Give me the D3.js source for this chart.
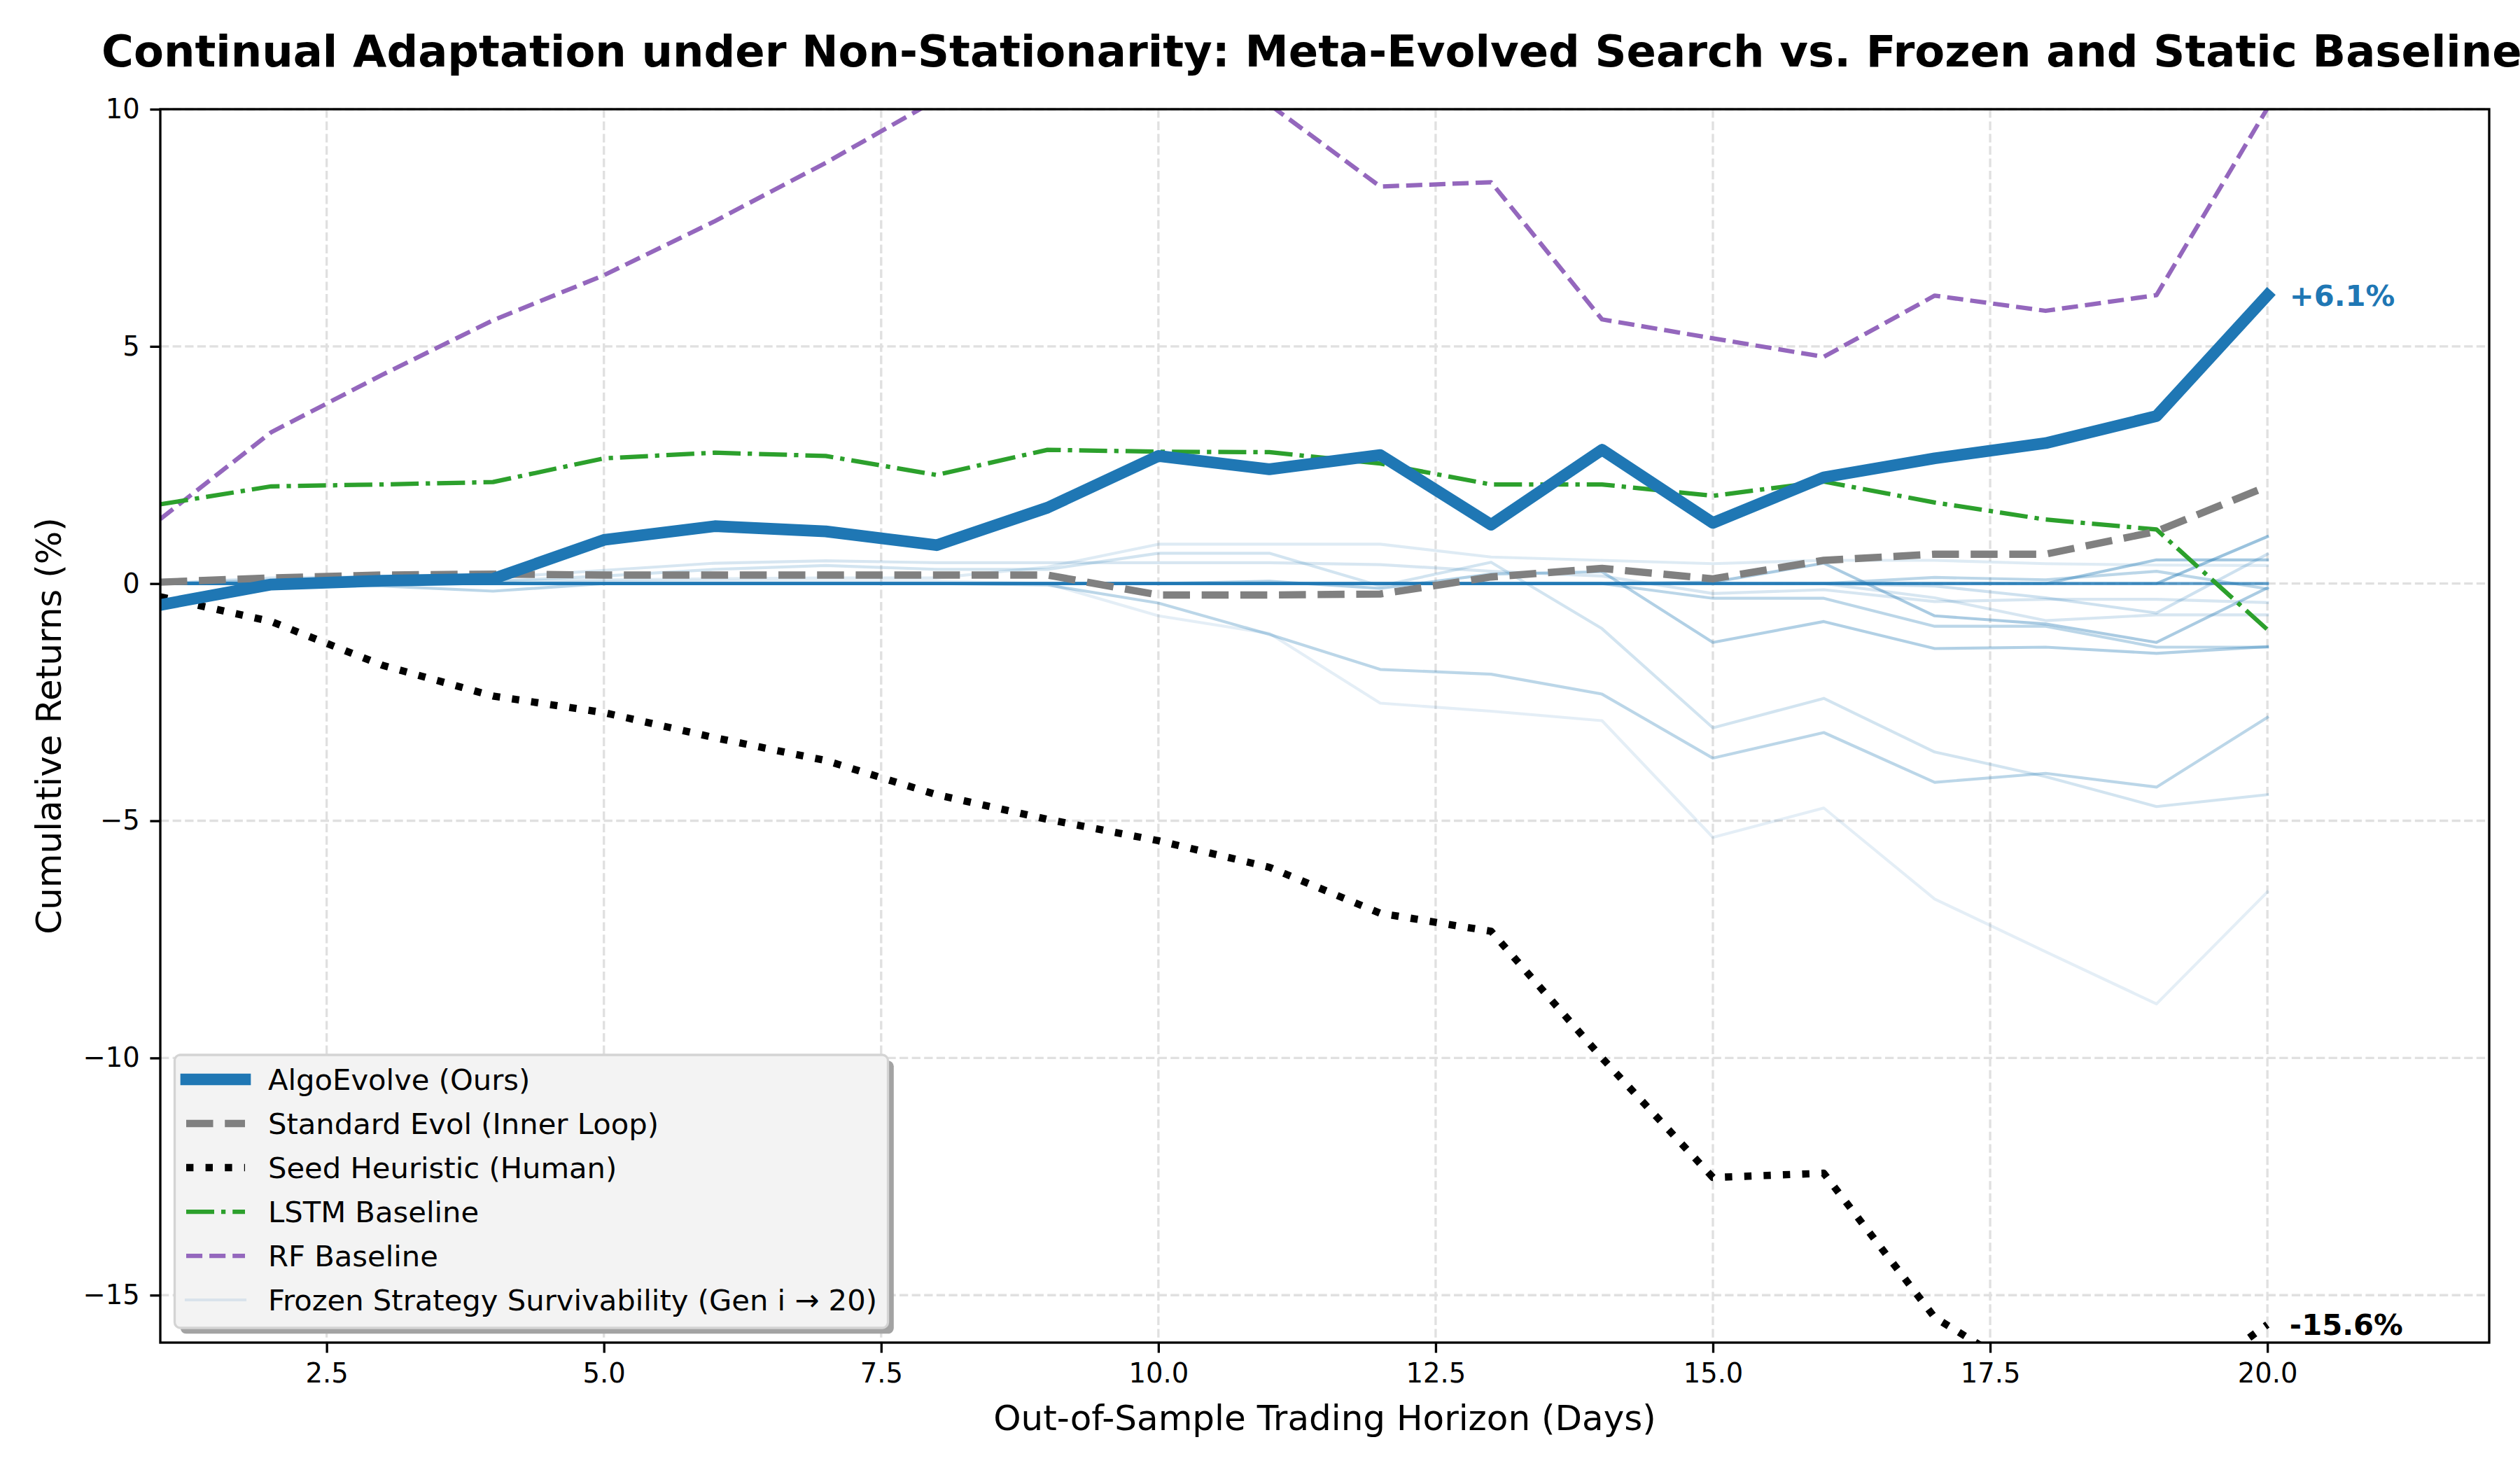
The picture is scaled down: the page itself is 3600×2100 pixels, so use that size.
<!DOCTYPE html>
<html><head><meta charset="utf-8">
<script src="https://cdn.jsdelivr.net/npm/d3@7"></script>
<style>html,body{margin:0;padding:0;background:#fff}</style>
</head><body>
<svg id="chart" width="3600" height="2100"></svg>
<script>
// ---------------- data ----------------
const days = [1,2,3,4,5,6,7,8,9,10,11,12,13,14,15,16,17,18,19,20];
const algoEvolve   = [-0.45,-0.02,0.06,0.10,0.92,1.21,1.10,0.81,1.60,2.69,2.41,2.71,1.24,2.82,1.28,2.24,2.64,2.96,3.53,6.08];
const standardEvol = [0.03,0.12,0.18,0.20,0.18,0.18,0.18,0.18,0.18,-0.24,-0.24,-0.22,0.14,0.32,0.10,0.49,0.62,0.62,1.10,2.05];
const seedHeuristic= [-0.28,-0.80,-1.72,-2.37,-2.72,-3.25,-3.73,-4.45,-4.97,-5.42,-5.98,-6.95,-7.33,-10.00,-12.52,-12.43,-15.47,-16.90,-17.30,-15.62];
const lstmBaseline = [1.67,2.05,2.09,2.14,2.64,2.76,2.69,2.29,2.82,2.78,2.77,2.53,2.09,2.09,1.85,2.15,1.71,1.35,1.14,-0.97];
const rfBaseline   = [1.36,3.19,4.40,5.55,6.50,7.64,8.87,10.20,10.90,10.60,10.10,8.37,8.46,5.57,5.17,4.78,6.07,5.75,6.08,10.02];

const frozenStrategies = [
  [0,0,0,0,0.05,0.05,0.05,0.05,0,-0.68,-1.05,-2.52,-2.69,-2.89,-5.35,-4.73,-6.65,-7.76,-8.86,-6.50],
  [0,0.05,0.08,0.05,0.08,0.10,0.12,0.12,0.35,0.83,0.83,0.83,0.56,0.49,0.42,0.49,0.49,0.42,0.39,0.38],
  [0,0.12,0.15,0.12,0.28,0.43,0.48,0.44,0.44,0.44,0.44,0.40,0.26,0.16,-0.21,-0.13,-0.38,-0.33,-0.33,-0.40],
  [0,0.08,0.05,0.05,0.16,0.30,0.38,0.30,0.30,0.64,0.64,-0.05,0.45,-0.95,-3.04,-2.42,-3.55,-4.07,-4.70,-4.45],
  [0,0.02,-0.05,-0.16,0,0,0,0,-0.03,-0.41,-1.07,-1.81,-1.91,-2.33,-3.68,-3.14,-4.19,-4.00,-4.29,-2.82],
  [0,0,0,0,0,0,0,0,0,0,0.05,-0.10,0.20,0.25,-1.24,-0.80,-1.37,-1.34,-1.47,-1.33],
  [0,0,0,0,0,0,0,0,0,0,0,0,0,0,-0.31,-0.31,-0.90,-0.90,-1.34,-1.34],
  [0,0,0,0,0,0,0,0,0,0,0,0,0,0,0.03,0.43,-0.68,-0.85,-1.24,-0.09],
  [0,0,0,0,0,0,0,0,0,0,0,0,0,0,0,0,0.13,0.08,0.26,-0.11],
  [0,0,0,0,0,0,0,0,0,0,0,0,0,0,0,0,0,0,0.50,0.50],
  [0,0,0,0,0,0,0,0,0,0,0,0,0,0,0,0,-0.05,-0.30,-0.62,0.62],
  [0,0,0,0,0,0,0,0,0,0,0,0,0,0,0,0,-0.30,-0.78,-0.66,-0.66],
  [0,0,0,0,0,0,0,0,0,0,0,0,0,0,0,0,0,0,0,0.99],
  [0,0,0,0,0,0,0,0,0,0,0,0,0,0,0,0,0,0,0,0]
];
const frozenOpacity = [0.12,0.15,0.18,0.2,0.3,0.35,0.3,0.38,0.3,0.4,0.22,0.18,0.45,0.72];

const xTicks = [2.5,5,7.5,10,12.5,15,17.5,20];
const yTicks = [-15,-10,-5,0,5,10];

const titleText = "Continual Adaptation under Non-Stationarity: Meta-Evolved Search vs. Frozen and Static Baselines";
const xLabel = "Out-of-Sample Trading Horizon (Days)";
const yLabel = "Cumulative Returns (%)";
const legendLabels = ["AlgoEvolve (Ours)","Standard Evol (Inner Loop)","Seed Heuristic (Human)","LSTM Baseline","RF Baseline","Frozen Strategy Survivability (Gen i \u2192 20)"];

// ---------------- layout ----------------
const FONT = "DejaVu Sans, Liberation Sans, sans-serif";
const L = 229, R = 3556, T = 156, B = 1918;
const svg = d3.select("#chart");
svg.append("rect").attr("width",3600).attr("height",2100).attr("fill","#fff");

const x = d3.scaleLinear().domain([1,22]).range([L,R]);
const y = d3.scaleLinear().domain([-16,10]).range([B,T]);

const styles = {
  algo:   {stroke:"#1f77b4", width:16.67, dash:null, cap:"square"},
  std:    {stroke:"#808080", width:10.42, dash:"38.5,16.7", cap:"butt"},
  seed:   {stroke:"#000000", width:10.42, dash:"10.4,17.2", cap:"butt"},
  lstm:   {stroke:"#2ca02c", width:6.25, dash:"40,10,6.25,10", cap:"butt"},
  rf:     {stroke:"#9467bd", width:6.25, dash:"23.1,10", cap:"butt"},
  frozen: {stroke:"#1f77b4", width:4.17, dash:null, cap:"square", opacity:0.12}
};

// grid
const grid = svg.append("g");
xTicks.forEach(t => grid.append("line").attr("x1",x(t)).attr("x2",x(t)).attr("y1",T).attr("y2",B)
  .attr("stroke","#e0e0e0").attr("stroke-width",3.33).attr("stroke-dasharray","12.3,5.3"));
yTicks.forEach(t => grid.append("line").attr("x1",L).attr("x2",R).attr("y1",y(t)).attr("y2",y(t))
  .attr("stroke","#e0e0e0").attr("stroke-width",3.33).attr("stroke-dasharray","12.3,5.3"));

// clip
svg.append("clipPath").attr("id","plotclip").append("rect").attr("x",L).attr("y",T).attr("width",R-L).attr("height",B-T);
const plot = svg.append("g").attr("clip-path","url(#plotclip)");

const line = d3.line().x(d=>x(d[0])).y(d=>y(d[1]));
function drawSeries(vals, st, opacity){
  const p = plot.append("path").datum(days.map((d,i)=>[d,vals[i]]))
    .attr("d",line).attr("fill","none").attr("stroke",st.stroke)
    .attr("stroke-width",st.width).attr("stroke-linecap",st.cap).attr("stroke-linejoin","round");
  if (st.dash) p.attr("stroke-dasharray",st.dash);
  if (opacity!=null) p.attr("stroke-opacity",opacity);
  return p;
}
frozenStrategies.forEach((f,i)=>drawSeries(f, styles.frozen, frozenOpacity[i]));
drawSeries(rfBaseline, styles.rf);
drawSeries(lstmBaseline, styles.lstm);
drawSeries(seedHeuristic, styles.seed);
drawSeries(standardEvol, styles.std);
drawSeries(algoEvolve, styles.algo);

// axes
const xAxis = svg.append("g").attr("transform",`translate(0,${B})`)
  .call(d3.axisBottom(x).tickValues(xTicks).tickFormat(d3.format(".1f")).tickSize(14.6).tickPadding(14.6).tickSizeOuter(0));
const yAxis = svg.append("g").attr("transform",`translate(${L},0)`)
  .call(d3.axisLeft(y).tickValues(yTicks).tickFormat(d3.format("d")).tickSize(14.6).tickPadding(14.6).tickSizeOuter(0));
[xAxis,yAxis].forEach(a=>{
  a.select(".domain").remove();
  a.selectAll(".tick line").attr("stroke","#000").attr("stroke-width",3.33);
  a.selectAll(".tick text").attr("fill","#000").attr("font-family",FONT).attr("font-size",38.5);
});
svg.append("rect").attr("x",L).attr("y",T).attr("width",R-L).attr("height",B-T)
  .attr("fill","none").attr("stroke","#000").attr("stroke-width",3.33);

// annotations
svg.append("text").attr("x",x(20.2)).attr("y",y(algoEvolve[19])+15).text("+6.1%")
  .attr("font-family",FONT).attr("font-size",41.7).attr("font-weight","bold").attr("fill","#1f77b4");
svg.append("text").attr("x",x(20.2)).attr("y",y(seedHeuristic[19])+15).text("-15.6%")
  .attr("font-family",FONT).attr("font-size",41.7).attr("font-weight","bold").attr("fill","#000");

// title & labels
svg.append("text").attr("x",(L+R)/2).attr("y",95).attr("text-anchor","middle").text(titleText)
  .attr("font-family",FONT).attr("font-size",62.5).attr("font-weight","bold");
svg.append("text").attr("x",(L+R)/2).attr("y",2043).attr("text-anchor","middle").text(xLabel)
  .attr("font-family",FONT).attr("font-size",50);
svg.append("text").attr("transform",`translate(87,${(T+B)/2}) rotate(-90)`).attr("text-anchor","middle").text(yLabel)
  .attr("font-family",FONT).attr("font-size",50);

// legend
const lg = svg.append("g");
const lx = 249.5, ly = 1507, lw = 1019, lh = 390;
lg.append("rect").attr("x",lx+8.3).attr("y",ly+8.3).attr("width",lw).attr("height",lh).attr("rx",8).attr("fill","#a3a3a3");
lg.append("rect").attr("x",lx).attr("y",ly).attr("width",lw).attr("height",lh).attr("rx",8)
  .attr("fill","#f3f3f3").attr("stroke","#d4d4d4").attr("stroke-width",3.33);
const legendStyles = [styles.algo, styles.std, styles.seed, styles.lstm, styles.rf, styles.frozen];
legendLabels.forEach((lab,i)=>{
  const cy = 1542 + i*63;
  const st = legendStyles[i];
  const p = lg.append("line").attr("x1",266).attr("x2",350).attr("y1",cy).attr("y2",cy)
    .attr("stroke",st.stroke).attr("stroke-width",st.width).attr("stroke-linecap",st.cap);
  if (st.dash) p.attr("stroke-dasharray",st.dash);
  if (st.opacity!=null) p.attr("stroke-opacity",st.opacity);
  lg.append("text").attr("x",383).attr("y",cy+15).text(lab)
    .attr("font-family",FONT).attr("font-size",41.7).attr("fill","#000");
});
</script>
</body></html>
